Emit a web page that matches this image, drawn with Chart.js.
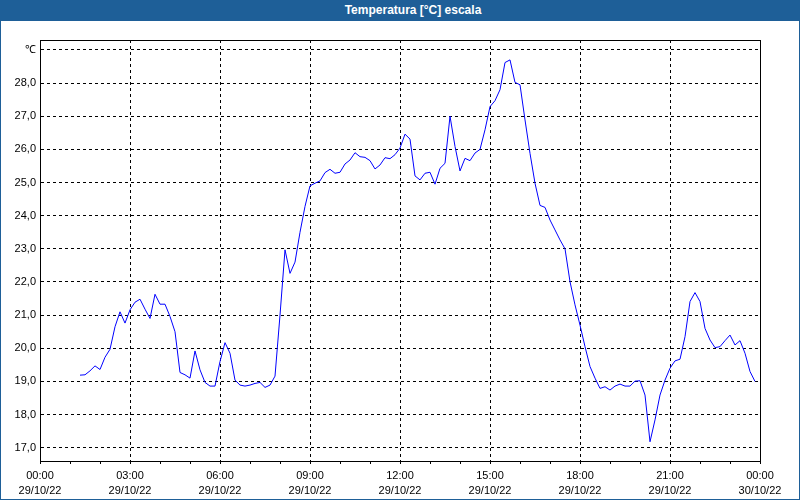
<!DOCTYPE html>
<html>
<head>
<meta charset="utf-8">
<script src="https://cdn.jsdelivr.net/npm/chart.js@4.4.0/dist/chart.umd.min.js"></script>
<style>
    body { margin: 0; background: #fff; }
    #wrap { position: relative; width: 800px; height: 500px; }
    #titleBar {
        position: absolute; left: 0; top: 0; width: 800px; height: 21px;
        box-sizing: border-box; padding-left: 26px;
        background: #1e5f98; color: #fff; text-align: center;
        font: bold 12px "Liberation Sans", Arial, sans-serif; line-height: 20px;
    }
    #edge {
        position: absolute; left: 0; top: 0; width: 800px; height: 500px;
        box-sizing: border-box; border: 1px solid #1e5f98; pointer-events: none;
    }
    canvas { position: absolute; left: 0; top: 0; }
</style>
</head>
<body>
<div id="wrap">
    <canvas id="tempChart" width="800" height="500"></canvas>
    <div id="titleBar">Temperatura [°C] escala</div>
    <div id="edge"></div>
</div>

<script>
    // lecturas cada 10 minutos, 29/10/22
    const times = [
        "01:20", "01:30", "01:40", "01:50",
        "02:00", "02:10", "02:20", "02:30", "02:40", "02:50",
        "03:00", "03:10", "03:20", "03:30", "03:40", "03:50",
        "04:00", "04:10", "04:20", "04:30", "04:40", "04:50",
        "05:00", "05:10", "05:20", "05:30", "05:40", "05:50",
        "06:00", "06:10", "06:20", "06:30", "06:40", "06:50",
        "07:00", "07:10", "07:20", "07:30", "07:40", "07:50",
        "08:00", "08:10", "08:20", "08:30", "08:40", "08:50",
        "09:00", "09:10", "09:20", "09:30", "09:40", "09:50",
        "10:00", "10:10", "10:20", "10:30", "10:40", "10:50",
        "11:00", "11:10", "11:20", "11:30", "11:40", "11:50",
        "12:00", "12:10", "12:20", "12:30", "12:40", "12:50",
        "13:00", "13:10", "13:20", "13:30", "13:40", "13:50",
        "14:00", "14:10", "14:20", "14:30", "14:40", "14:50",
        "15:00", "15:10", "15:20", "15:30", "15:40", "15:50",
        "16:00", "16:10", "16:20", "16:30", "16:40", "16:50",
        "17:00", "17:10", "17:20", "17:30", "17:40", "17:50",
        "18:00", "18:10", "18:20", "18:30", "18:40", "18:50",
        "19:00", "19:10", "19:20", "19:30", "19:40", "19:50",
        "20:00", "20:10", "20:20", "20:30", "20:40", "20:50",
        "21:00", "21:10", "21:20", "21:30", "21:40", "21:50",
        "22:00", "22:10", "22:20", "22:30", "22:40", "22:50",
        "23:00", "23:10", "23:20", "23:30", "23:40", "23:50"
    ]
    const temperatures = [
        19.19, 19.20, 19.32, 19.47,
        19.36, 19.73, 19.97, 20.65, 21.10, 20.76,
        21.16, 21.39, 21.48, 21.18, 20.90, 21.63,
        21.33, 21.33, 20.96, 20.50, 19.27, 19.20,
        19.10, 19.92, 19.35, 18.97, 18.86, 18.86,
        19.60, 20.17, 19.85, 19.04, 18.89, 18.86,
        18.89, 18.94, 18.97, 18.82, 18.89, 19.16,
        21.00, 22.97, 22.26, 22.60, 23.50, 24.28,
        24.90, 24.98, 25.05, 25.30, 25.40, 25.28,
        25.31, 25.56, 25.68, 25.90, 25.78, 25.76,
        25.66, 25.41, 25.53, 25.75, 25.72, 25.84,
        26.04, 26.46, 26.31, 25.20, 25.08, 25.28,
        25.31, 24.95, 25.43, 25.58, 27.00, 26.09,
        25.35, 25.73, 25.66, 25.89, 26.00, 26.59,
        27.29, 27.47, 27.80, 28.62, 28.70, 28.02,
        27.95, 26.89, 25.88, 24.98, 24.31, 24.25,
        23.87, 23.57, 23.27, 23.00, 22.01, 21.31,
        20.70, 20.05, 19.45, 19.10, 18.79, 18.84,
        18.74, 18.86, 18.92, 18.86, 18.86, 19.01,
        19.02, 18.59, 17.18, 17.84, 18.59, 19.04,
        19.40, 19.62, 19.67, 20.35, 21.41, 21.68,
        21.41, 20.60, 20.25, 20.02, 20.05, 20.23,
        20.40, 20.10, 20.23, 19.85, 19.30, 19.00
    ]
    const xTickHours = ["00:00", "03:00", "06:00", "09:00", "12:00", "15:00", "18:00", "21:00", "00:00"]
    const xTickDates = ["29/10/22", "29/10/22", "29/10/22", "29/10/22", "29/10/22", "29/10/22", "29/10/22", "29/10/22", "30/10/22"]
    const unitLabel = "℃"

    function toMinutes(hhmm) {
        let parts = hhmm.split(":")
        return parseInt(parts[0]) * 60 + parseInt(parts[1])
    }

    const framePlugin = {
        id: 'frame',
        afterDatasetsDraw(chart) {
            const { ctx, chartArea } = chart
            ctx.save()
            ctx.strokeStyle = '#000'
            ctx.lineWidth = 1
            ctx.strokeRect(Math.round(chartArea.left) + 0.5, Math.round(chartArea.top) + 0.5,
                Math.round(chartArea.right - chartArea.left), Math.round(chartArea.bottom - chartArea.top))
            ctx.restore()
        }
    }

    function tempChart() {
        Chart.defaults.font.family = '"Liberation Sans", Arial, sans-serif'
        Chart.defaults.font.size = 11
        Chart.defaults.color = '#000'

        let points = times.map((t, idx) => ({ x: toMinutes(t), y: temperatures[idx] }))

        new Chart(document.getElementById('tempChart'), {
            type: 'line',
            data: {
                datasets: [{
                    label: 'Temperatura',
                    data: points,
                    borderColor: '#0000ff',
                    borderWidth: 1,
                    pointRadius: 0,
                    tension: 0,
                    fill: false
                }]
            },
            options: {
                responsive: false,
                animation: false,
                devicePixelRatio: 1,
                layout: { padding: { left: 0, top: 40, right: 40, bottom: 0 } },
                plugins: {
                    legend: { display: false },
                    tooltip: { enabled: false }
                },
                scales: {
                    x: {
                        type: 'linear',
                        min: 0,
                        max: 1440,
                        afterFit: (scale) => { scale.height = 39 },
                        border: { display: true, color: '#000', width: 1, dash: [3, 3] },
                        grid: {
                            color: (c) => (c.tick && c.tick.value % 180 === 0) ? '#000' : 'rgba(0,0,0,0)',
                            lineWidth: 1,
                            tickColor: '#000',
                            tickLength: 3,
                            drawTicks: true
                        },
                        ticks: {
                            stepSize: 60,
                            autoSkip: false,
                            maxRotation: 0,
                            padding: 4,
                            font: { lineHeight: 15 / 11 },
                            callback: (value) => value % 180 === 0
                                ? [xTickHours[value / 180], xTickDates[value / 180]] : ''
                        }
                    },
                    y: {
                        min: 16.6,
                        max: 29.3,
                        afterFit: (scale) => { scale.width = 40 },
                        border: { display: true, color: '#000', width: 1, dash: [3, 3] },
                        grid: { color: '#000', lineWidth: 1, drawTicks: false },
                        ticks: {
                            stepSize: 1,
                            includeBounds: false,
                            padding: 4,
                            callback: (value) => value === 29 ? unitLabel : value.toFixed(1).replace('.', ',')
                        }
                    }
                }
            },
            plugins: [framePlugin]
        })
    }

    tempChart()
</script>
</body>
</html>
